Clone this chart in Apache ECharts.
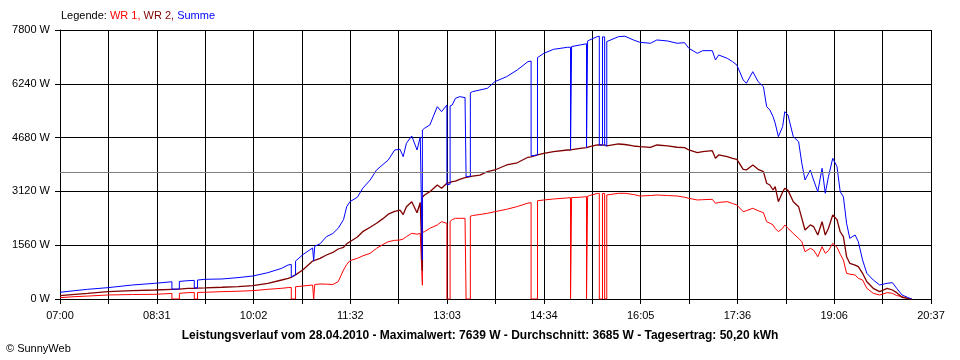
<!DOCTYPE html>
<html><head><meta charset="utf-8">
<script src="https://cdn.jsdelivr.net/npm/echarts@6/dist/echarts.min.js"></script>
<style>html,body{margin:0;padding:0;background:#fff}#c{width:960px;height:360px}</style>
</head><body><div id="c"></div>
<script>
// ---- data ----
const times = [
'07:00','07:14','07:26','07:45','08:08','08:29','08:45','08:45','08:52','08:52',
'09:00','09:06','09:06','09:09','09:09','09:16','09:32','09:47','10:01','10:15',
'10:28','10:34','10:37','10:37','10:41','10:41','10:48','10:57','10:58','10:58',
'10:59','10:59','11:04','11:10','11:16','11:21','11:26','11:29','11:32','11:39',
'11:44','11:51','11:57','12:03','12:08','12:14','12:19','12:22','12:25','12:30',
'12:35','12:38','12:40','12:40','12:42','12:47','12:54','12:58','13:03','13:03',
'13:06','13:06','13:08','13:11','13:15','13:20','13:21','13:21','13:25','13:25',
'13:27','13:34','13:41','13:48','13:59','14:09','14:19','14:22','14:22','14:28',
'14:28','14:34','14:43','14:56','14:59','14:59','15:00','15:00','15:08','15:14',
'15:14','15:15','15:15','15:17','15:24','15:26','15:26','15:29','15:29','15:31',
'15:31','15:33','15:33','15:44','15:50','15:58','16:04','16:14','16:20','16:30',
'16:39','16:46','16:50','16:58','17:03','17:12','17:15','17:18','17:26','17:31',
'17:35','17:41','17:44','17:50','17:55','18:00','18:03','18:06','18:09','18:11',
'18:14','18:18','18:20','18:23','18:28','18:33','18:36','18:39','18:44','18:47',
'18:51','18:55','18:58','19:01','19:05','19:09','19:12','19:15','19:18','19:21',
'19:26','19:29','19:33','19:37','19:43','19:49','19:56','20:01','20:05','20:10',
'20:15','20:19'];

const wr1 = [
39,68,85,116,130,136,160,0,0,165,
184,188,0,0,190,195,213,225,242,281,
310,330,335,0,0,355,377,406,406,0,
0,420,435,430,420,502,841,1000,1111,1180,
1250,1325,1470,1580,1662,1700,1711,1740,1807,1905,
1880,1900,400,1930,1952,2050,2146,2242,2195,0,
0,2250,2300,2340,2340,2340,2340,0,0,2400,
2420,2450,2485,2532,2601,2680,2780,2793,0,0,
2850,2871,2900,2930,2938,0,0,2940,2950,2967,
0,0,2980,3000,3060,3065,0,0,3060,3060,
0,0,3016,3065,3065,3030,2987,3000,3016,3000,
2987,2950,2920,2871,2880,2891,2775,2800,2822,2770,
2726,2532,2560,2630,2560,2503,2242,2200,2146,2050,
1952,2050,2146,2050,1900,1760,1662,1372,1470,1420,
1227,1517,1325,1400,1615,1500,1300,1131,745,720,
696,600,551,310,165,116,184,165,100,70,
20,0];

const wr2 = [
96,136,165,213,242,261,280,280,285,285,
310,312,312,315,315,320,340,360,387,455,
551,600,630,630,700,700,850,1100,1110,1110,
1120,1120,1180,1276,1350,1450,1500,1600,1662,1800,
1952,2080,2195,2330,2460,2540,2580,2450,2677,2822,
2500,2800,830,2950,3016,3112,3306,3210,3355,3355,
3380,3380,3403,3420,3471,3520,3530,3530,3550,3550,
3560,3590,3692,3741,3886,3950,4109,4120,4120,4176,
4176,4225,4272,4321,4321,4321,4321,4330,4370,4390,
4390,4400,4400,4420,4466,4466,4466,4466,4466,4460,
4460,4440,4437,4495,4480,4437,4417,4399,4466,4440,
4400,4390,4321,4243,4272,4301,4080,4176,4127,4080,
4051,3761,3741,3886,3760,3692,3355,3306,3161,3257,
2822,3100,3210,3150,2822,2677,2340,2001,2150,2100,
1856,2242,1856,2050,2436,2300,1950,1807,1227,1035,
980,938,745,502,310,212,310,261,184,50,
20,0];

const summe = [
195,242,281,329,406,455,500,285,290,510,
531,540,320,322,550,571,580,620,667,763,
890,986,1000,640,700,1100,1290,1480,1500,1110,
1120,1530,1600,1808,1900,2050,2300,2677,2822,2950,
3210,3450,3741,3900,4031,4321,4341,4127,4515,4727,
4321,4700,1130,4900,4950,5046,5577,5432,5626,3306,
3330,5600,5626,5820,5868,5840,5840,3547,3560,5980,
6012,6061,6110,6302,6447,6641,6882,6900,4150,4176,
7000,7124,7240,7298,7300,4321,4330,7320,7366,7400,
4390,4400,7480,7511,7607,7620,4466,4466,7600,7600,
4460,4440,7463,7607,7620,7511,7443,7415,7511,7482,
7415,7433,7270,7124,7201,7201,6931,7076,6979,6882,
6786,6351,6255,6592,6302,6157,5577,5481,5287,5100,
4707,5000,5432,5336,4707,4562,3935,3451,3741,3451,
3112,3790,3065,3547,4080,3837,3112,2967,2195,1760,
1856,1662,1131,745,551,406,455,474,310,116,
50,0];

const xTickLabels = ['07:00','08:31','10:02','11:32','13:03','14:34','16:05','17:36','19:06','20:37'];
const average = 3685;
const yMax = 7800, yStep = 1560;
const startMin = 420;       // 07:00
const spanMin = 817.2;      // 07:00 -> 20:37
const gridStep = spanMin / 18;

// ---- build ----
function toMin(t){ const p = t.split(':'); return (+p[0]) * 60 + (+p[1]) - startMin; }
const xs = times.map(toMin);
const pts = arr => arr.map((v, i) => [xs[i], v]);
const FONT = '"Liberation Sans", Arial, sans-serif';

const chart = echarts.init(document.getElementById('c'), null, {renderer: 'canvas'});
chart.setOption({
  animation: false,
  backgroundColor: '#ffffff',
  title: [
    {left: 61, top: 10, padding: 0, text: '{k|Legende: }{r|WR 1, }{d|WR 2, }{b|Summe}',
     textStyle: {fontFamily: FONT, fontSize: 11, fontWeight: 'normal',
       rich: {k: {color: '#000', fontFamily: FONT, fontSize: 11},
              r: {color: '#ff0000', fontFamily: FONT, fontSize: 11},
              d: {color: '#800000', fontFamily: FONT, fontSize: 11},
              b: {color: '#0000ff', fontFamily: FONT, fontSize: 11}}}},
    {left: 'center', top: 330, padding: 0, text: 'Leistungsverlauf vom 28.04.2010 - Maximalwert: 7639 W - Durchschnitt: 3685 W - Tagesertrag: 50,20 kWh',
     textStyle: {fontFamily: FONT, fontSize: 12, fontWeight: 'bold', color: '#000'}},
    {left: 6, top: 343, padding: 0, text: '\u00a9 SunnyWeb',
     textStyle: {fontFamily: FONT, fontSize: 11, fontWeight: 'normal', color: '#000'}}
  ],
  grid: {left: 60, right: 29, top: 30, bottom: 61, containLabel: false, outerBoundsMode: 'none'},
  xAxis: {
    type: 'value', min: 0, max: spanMin, interval: gridStep,
    axisLine: {show: true, lineStyle: {color: '#000', width: 1}},
    axisTick: {show: true, length: 5, lineStyle: {color: '#000'}},
    splitLine: {show: true, lineStyle: {color: '#000', width: 1}},
    axisLabel: {
      color: '#000', fontFamily: FONT, fontSize: 11, margin: 11,
      showMinLabel: true, showMaxLabel: true,
      formatter: v => { const i = Math.round(v / gridStep); return i % 2 === 0 ? (xTickLabels[i / 2] || '') : ''; }
    }
  },
  yAxis: {
    type: 'value', min: 0, max: yMax, interval: yStep,
    axisLine: {show: true, lineStyle: {color: '#000', width: 1}},
    axisTick: {show: true, length: 5, lineStyle: {color: '#000'}},
    splitLine: {show: true, lineStyle: {color: '#000', width: 1}},
    axisLabel: {color: '#000', fontFamily: FONT, fontSize: 11, margin: 10, formatter: v => v + ' W'}
  },
  series: [
    {name: 'WR 1', type: 'line', data: pts(wr1), showSymbol: false, symbol: 'none',
     lineStyle: {color: '#ff0000', width: 1}, itemStyle: {color: '#ff0000'},
     markLine: {silent: true, symbol: ['none', 'none'], label: {show: false},
       lineStyle: {color: '#808080', type: 'solid', width: 1}, data: [{yAxis: average}]}},
    {name: 'WR 2', type: 'line', data: pts(wr2), showSymbol: false, symbol: 'none',
     lineStyle: {color: '#800000', width: 1.3}, itemStyle: {color: '#800000'}},
    {name: 'Summe', type: 'line', data: pts(summe), showSymbol: false, symbol: 'none',
     lineStyle: {color: '#0000ff', width: 1}, itemStyle: {color: '#0000ff'}}
  ]
});
</script>
</body></html>
